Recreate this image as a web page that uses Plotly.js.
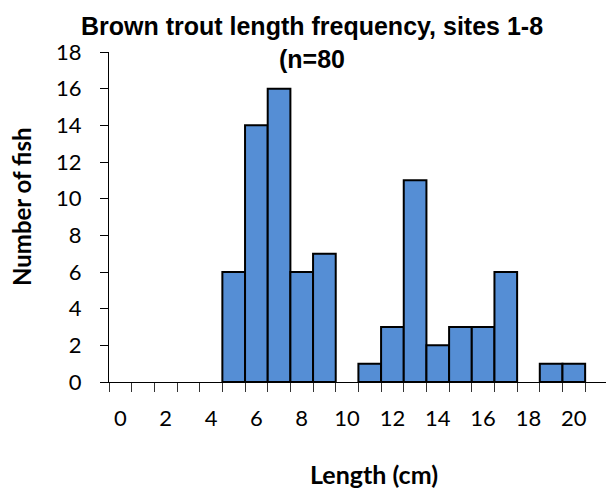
<!DOCTYPE html>
<html>
<head>
<meta charset="utf-8">
<script src="https://cdn.plot.ly/plotly-3.0.1.min.js"></script>
<style>html,body{margin:0;padding:0;background:#fff;}#chart{width:606px;height:490px;}
#chart text{font-variant-ligatures:none;}</style>
</head>
<body>
<div id="chart"></div>
<script>
// Length classes (cm) and number of fish in each
const lengths = [0,1,2,3,4,5,6,7,8,9,10,11,12,13,14,15,16,17,18,19,20];
const counts  = [0,0,0,0,0,6,14,16,6,7,0,1,3,11,2,3,3,6,0,1,1];
const xTickVals = [0,2,4,6,8,10,12,14,16,18,20];
const yTickVals = [0,2,4,6,8,10,12,14,16,18];
const titleText = 'Brown trout length frequency, sites 1-8<br>(n=80';
const xTitle = 'Length (cm)';
const yTitle = 'Number of fish';

const xs = [], ys = [];
lengths.forEach((l, i) => { if (counts[i] > 0) { xs.push(l); ys.push(counts[i]); } });

const tickFont = {family: 'Lato, Carlito, sans-serif', size: 22, color: '#000'};
const axTitleFont = {family: 'Lato, Carlito, sans-serif', size: 25, color: '#000', weight: 'bold'};
const yTitleFont = {family: 'Lato, Carlito, sans-serif', size: 24, color: '#000', weight: 'bold'};

const trace = {
  type: 'bar',
  x: xs,
  y: ys,
  width: 1,
  marker: {color: '#558ed5', line: {color: '#000', width: 2}},
  hoverinfo: 'x+y'
};

const layout = {
  width: 606,
  height: 490,
  margin: {l: 109, r: 0, t: 52, b: 108, pad: 0},
  paper_bgcolor: '#fff',
  plot_bgcolor: '#fff',
  showlegend: false,
  title: {
    text: titleText,
    x: 312/606, xanchor: 'center',
    y: 1 - 35/490, yanchor: 'top',
    font: {family: 'Liberation Sans, Arial, sans-serif', size: 25, color: '#000', weight: 'bold'}
  },
  xaxis: {
    range: [-0.5, 21.42],
    tickmode: 'array',
    tickvals: xTickVals,
    ticktext: xTickVals.map(String),
    ticks: '',
    ticklabelstandoff: 17,
    tickfont: tickFont,
    showline: true, linecolor: '#000', linewidth: 1,
    showgrid: false, zeroline: false,
    minor: {tick0: -0.5, dtick: 1, ticks: 'outside', ticklen: 9, tickwidth: 1, tickcolor: '#333', showgrid: false},
    fixedrange: true
  },
  yaxis: {
    range: [0, 18],
    tickmode: 'array',
    tickvals: yTickVals,
    ticks: 'outside', ticklen: 8, tickwidth: 1, tickcolor: '#000',
    ticklabelstandoff: 14,
    tickfont: tickFont,
    showline: true, linecolor: '#000', linewidth: 1,
    showgrid: false, zeroline: false,
    fixedrange: true
  },
  annotations: [{
    text: xTitle,
    xref: 'paper', yref: 'paper',
    x: (374 - 109) / 497, xanchor: 'center',
    y: (382 - 474) / 330, yanchor: 'middle',
    showarrow: false,
    font: axTitleFont
  }, {
    text: yTitle,
    xref: 'paper', yref: 'paper',
    x: (21 - 109) / 497, xanchor: 'center',
    y: (382 - 207) / 330, yanchor: 'middle',
    textangle: -90,
    showarrow: false,
    font: yTitleFont
  }]
};

Plotly.newPlot('chart', [trace], layout, {displayModeBar: false, staticPlot: true});
</script>
</body>
</html>
